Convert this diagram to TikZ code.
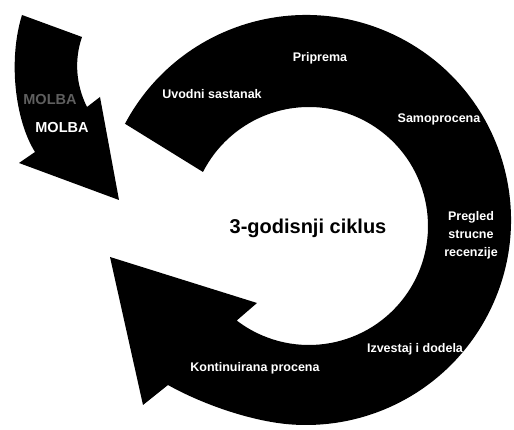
\documentclass[tikz,border=0pt]{standalone}
\usepackage{fontspec}
\setmainfont{Liberation Sans}
\usepackage{tikz}
\usetikzlibrary{calc}
\definecolor{cRing}{RGB}{0,0,0}
\definecolor{cFaint}{RGB}{95,95,95}
\tikzset{
	stage/.style ={text=white, font=\fontsize{12.5}{18}\selectfont\bfseries, align=center, inner sep=0pt},
	hub/.style   ={text=black, font=\fontsize{20}{24}\selectfont\bfseries, inner sep=0pt},
	% request arrow labels
	req/.style   ={text=white, font=\fontsize{14.5}{16}\selectfont\bfseries, inner sep=0pt},
	reqfaint/.style={req, text=cFaint},
}

\begin{document}
\begin{tikzpicture}[x=1pt, y=1pt]
			\useasboundingbox (0,0) rectangle (514,430);
			\coordinate (oc) at (306,210);
			\coordinate (ic) at (309,204);
			% cycle ring with its head
			\fill[cRing] ($(oc)+(152:205pt)$) arc[start angle=152, end angle=-95, radius=205pt]
				.. controls (248,9.5) and (200,27) .. (168,45) -- (143,25) -- (110,173) -- (257,127) -- (235,108)
				-- ($(ic)+(-127.6:119pt)$) arc[start angle=-127.6, end angle=153, radius=119pt] -- cycle;
			% incoming request arrow
			\fill[cRing] (22,415) -- (82,393) .. controls (74,370) and (76,345) .. (87,323) -- (100,333) -- (119,230)
				-- (19,267) -- (35,278) .. controls (15,310) and (8,370) .. (22,415) -- cycle;
			\node[reqfaint] (molbaf) at (50,330) {MOLBA};
			\node[req] (molba) at (62,302) {MOLBA};
			\node[hub] (cycle) at (308,202) {3-godisnji ciklus};
			\node[stage] (uvod) at (212,336) {Uvodni sastanak};
			\node[stage] (prip) at (320,372) {Priprema};
			\node[stage] (samo) at (439,311) {Samoprocena};
			\node[stage] (preg) at (471,195) {Pregled\\ strucne\\ recenzije};
			\node[stage] (izv) at (415,81) {Izvestaj i dodela};
			\node[stage] (kont) at (255,62) {Kontinuirana procena};
		\end{tikzpicture}
\end{document}
